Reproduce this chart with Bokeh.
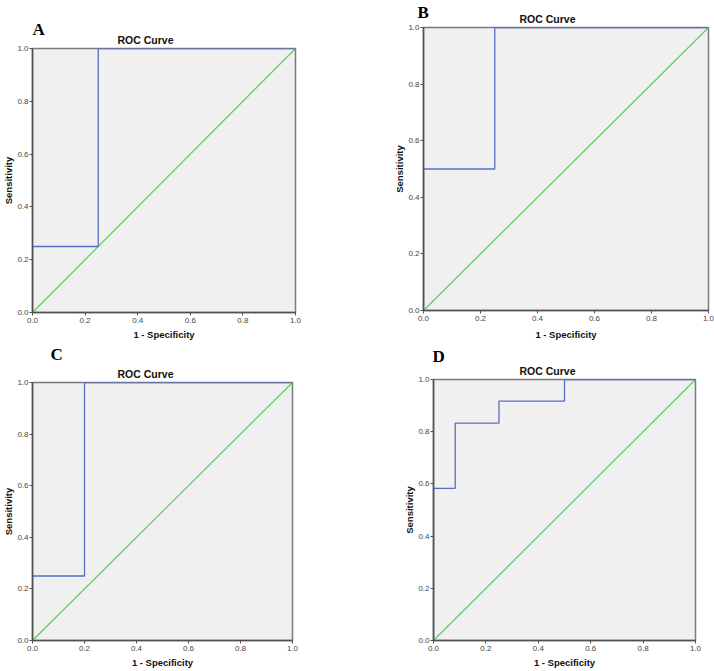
from bokeh.plotting import figure
from bokeh.layouts import row, column
from bokeh.models import Range1d, FixedTicker, PrintfTickFormatter, Title, Spacer
from bokeh.embed import file_html
from bokeh.resources import INLINE

# ---- data ----
letters = ["A", "B", "C", "D"]
fpr_A = [0.0, 0.0, 0.25, 0.25, 1.0]
tpr_A = [0.0, 0.25, 0.25, 1.0, 1.0]
fpr_B = [0.0, 0.0, 0.25, 0.25, 1.0]
tpr_B = [0.0, 0.5, 0.5, 1.0, 1.0]
fpr_C = [0.0, 0.0, 0.2, 0.2, 1.0]
tpr_C = [0.0, 0.25, 0.25, 1.0, 1.0]
fpr_D = [0.0, 0.0, 0.083, 0.083, 0.25, 0.25, 0.5, 0.5, 1.0]
tpr_D = [0.0, 0.583, 0.583, 0.833, 0.833, 0.917, 0.917, 1.0, 1.0]
ref_x = [0.0, 1.0]
ref_y = [0.0, 1.0]
ticks = [0.0, 0.2, 0.4, 0.6, 0.8, 1.0]

BLUE = "#5A6EC2"
GREEN = "#5ECB5E"
FRAME = "#505050"

# layout geometry (pixels): frame size, borders, title/letter offsets and standoffs
geom = {
    "A": dict(fw=263, fh=264, l=32, r=65, t=48, b=31, toff=85, loff=0, rs=6, ls=-21, xs=3),
    "B": dict(fw=285, fh=283, l=63, r=6, t=27, b=33, toff=96, loff=-6, rs=5, ls=-26, xs=5),
    "C": dict(fw=260, fh=258, l=32, r=68, t=39, b=31, toff=85, loff=18, rs=6, ls=-2, xs=3),
    "D": dict(fw=262, fh=261, l=63, r=19, t=36, b=31, toff=86, loff=-1, rs=6, ls=-12, xs=3),
}


def panel(letter, fpr, tpr):
    g = geom[letter]
    p = figure(
        frame_width=g["fw"], frame_height=g["fh"],
        min_border_left=g["l"], min_border_right=g["r"],
        min_border_top=g["t"], min_border_bottom=g["b"],
        x_range=Range1d(0, 1), y_range=Range1d(0, 1),
        toolbar_location=None, output_backend="svg",
        background_fill_color="#F0F0F0", border_fill_color="white",
        outline_line_color="#7a7a7a", outline_line_width=1.5,
    )
    p.add_layout(Title(text="ROC Curve", align="left", offset=g["toff"],
                       text_font="Liberation Sans", text_font_size="10.5px",
                       text_font_style="bold", text_color="#111111", standoff=g["rs"]), "above")
    p.add_layout(Title(text=letter, align="left", offset=g["loff"], text_font="Liberation Serif",
                       text_font_size="17px", text_font_style="bold", text_color="black",
                       standoff=g["ls"]), "above")
    p.grid.visible = False
    for ax in (p.xaxis[0], p.yaxis[0]):
        ax.ticker = FixedTicker(ticks=ticks)
        ax.formatter = PrintfTickFormatter(format="%.1f")
        ax.minor_tick_line_color = None
        ax.major_tick_in = 0
        ax.major_tick_out = 3
        ax.major_tick_line_color = FRAME
        ax.axis_line_color = FRAME
        ax.axis_line_width = 1.5
        ax.major_label_text_font = "Liberation Sans"
        ax.major_label_text_font_size = "8px"
        ax.major_label_text_color = "#444444"
        ax.axis_label_text_font = "Liberation Sans"
        ax.axis_label_text_font_size = "9.5px"
        ax.axis_label_text_font_style = "bold"
        ax.axis_label_text_color = "#111111"
    p.xaxis.axis_label = "1 - Specificity"
    p.yaxis.axis_label = "Sensitivity"
    p.xaxis.major_label_standoff = 2
    p.yaxis.major_label_standoff = 1
    p.xaxis.axis_label_standoff = g["xs"]
    p.yaxis.axis_label_standoff = 0

    p.line(ref_x, ref_y, line_color=GREEN, line_width=1.2)
    p.line(fpr, tpr, line_color=BLUE, line_width=1.3)
    return p


pA = panel("A", fpr_A, tpr_A)
pB = panel("B", fpr_B, tpr_B)
pC = panel("C", fpr_C, tpr_C)
pD = panel("D", fpr_D, tpr_D)

left = column(pA, pC, spacing=0)
right = column(pB, row(Spacer(width=10, height=10), pD, spacing=0), spacing=0)
layout = row(left, right, spacing=0)

open("out.html", "w").write(file_html(layout, INLINE))
